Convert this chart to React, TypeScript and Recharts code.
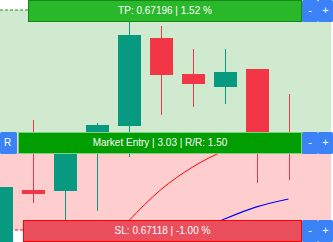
import {
  ComposedChart,
  Bar,
  Line,
  XAxis,
  YAxis,
  ReferenceArea,
  ReferenceLine
} from "recharts";

// candle index, OHLC prices
const IDX = [0, 1, 2, 3, 4, 5, 6, 7, 8, 9];
const OPEN = [0.671074, 0.671322, 0.671318, 0.671496, 0.671549, 0.671861, 0.671733, 0.671687, 0.671751, 0.671513];
const HIGH = [0.671332, 0.67157, 0.671517, 0.671559, 0.671939, 0.671903, 0.671822, 0.671822, 0.671751, 0.671662];
const LOW = [0.671074, 0.671276, 0.671215, 0.671247, 0.671439, 0.671588, 0.671616, 0.671627, 0.671347, 0.671357];
const CLOSE = [0.671332, 0.671308, 0.671499, 0.671552, 0.671871, 0.67173, 0.671698, 0.67174, 0.671499, 0.671464];

// two indicator lines
const MA_RED = [null, null, null, null, 0.671212, 0.671322, 0.671403, 0.67146, 0.671489, 0.671506];
const MA_BLUE = [null, null, null, null, null, null, 0.671169, 0.671219, 0.671262, 0.67129];

// order levels
const TP_PRICE = 0.67196;
const SL_PRICE = 0.67118;
const ENTRY_PRICE = 0.671492;

const TP_TEXT = "TP: 0.67196 | 1.52 %";
const ENTRY_TEXT = "Market Entry | 3.03 | R/R: 1.50";
const SL_TEXT = "SL: 0.67118 | -1.00 %";

const UP = "#089981";
const DOWN = "#F23645";
const BLUE_BTN = "#3B82F6";
const FONT = "'Liberation Sans', Arial, sans-serif";

const data = IDX.map((i) => ({
  i,
  open: OPEN[i],
  high: HIGH[i],
  low: LOW[i],
  close: CLOSE[i],
  maRed: MA_RED[i],
  maBlue: MA_BLUE[i]
}));

const Candle = (props: any) => {
  const { x, y, width, height, payload } = props;
  if (!payload || height == null) return null;
  const { open, close, high, low } = payload;
  const per = height / (high - low);
  const yOf = (v: number) => y + (high - v) * per;
  const cx = x + width / 2;
  const up = close >= open;
  const top = yOf(Math.max(open, close));
  const bot = yOf(Math.min(open, close));
  const color = up ? UP : DOWN;
  return (
    <g shapeRendering="crispEdges">
      <rect x={cx - 0.5} y={y} width={1} height={height} fill={color} />
      <rect x={cx - 11.5} y={top} width={23} height={Math.max(1, bot - top)} fill={color} />
    </g>
  );
};

type TagOpts = { left: number; fill: string; stroke: string; text: string; showR?: boolean };

const makeTag = ({ left, fill, stroke, text, showR }: TagOpts) => (props: any) => {
  const py = Math.round(props.y1);
  const top = py - 10;
  const right = 302;
  return (
    <g>
      <rect
        x={left + 0.5}
        y={top + 0.5}
        width={right - left - 1}
        height={21}
        fill={fill}
        stroke={stroke}
        strokeWidth={1}
        shapeRendering="crispEdges"
      />
      <text
        x={(left + right) / 2}
        y={py + 4}
        textAnchor="middle"
        fill="#fff"
        fontSize={10}
        fontFamily={FONT}
      >
        {text}
      </text>
      <rect x={302} y={top} width={16} height={22} rx={1.5} fill={BLUE_BTN} />
      <rect x={318} y={top} width={15} height={22} rx={1.5} fill={BLUE_BTN} />
      <text x={310} y={py + 4} textAnchor="middle" fill="#fff" fontSize={11} fontFamily={FONT}>
        -
      </text>
      <text x={325.5} y={py + 4} textAnchor="middle" fill="#fff" fontSize={11} fontFamily={FONT}>
        +
      </text>
      {showR && (
        <>
          <rect x={0} y={top} width={17} height={22} rx={1.5} fill={BLUE_BTN} />
          <text x={7.5} y={py + 4} textAnchor="middle" fill="#fff" fontSize={10} fontFamily={FONT}>
            R
          </text>
        </>
      )}
    </g>
  );
};

const TpTag = makeTag({ left: 28, fill: "#29B829", stroke: "#17861A", text: TP_TEXT });
const EntryTag = makeTag({ left: 18, fill: "#009E00", stroke: "#7ED47E", text: ENTRY_TEXT, showR: true });
const SlTag = makeTag({ left: 23, fill: "#EA4F5E", stroke: "#FF0000", text: SL_TEXT });

export default function App() {
  return (
    <div style={{ position: "absolute", left: 0, top: 0 }}>
      <ComposedChart
        width={333}
        height={242}
        data={data}
        margin={{ top: 0, right: 2, bottom: 0, left: 0 }}
      >
        <XAxis
          type="number"
          dataKey="i"
          domain={[-0.015625, 10.328125]}
          allowDataOverflow
          hide
        />
        <YAxis
          type="number"
          domain={[0.6711375, 0.6719955]}
          allowDataOverflow
          hide
          width={0}
        />
        <ReferenceArea y1={ENTRY_PRICE} y2={TP_PRICE} fill="#CFEACF" fillOpacity={1} stroke="none" zIndex={50} />
        <ReferenceArea y1={SL_PRICE} y2={ENTRY_PRICE} fill="#FECDCD" fillOpacity={1} stroke="none" zIndex={50} />
        <ReferenceLine y={TP_PRICE} stroke="#1E8F1E" strokeDasharray="3 2" zIndex={60} />
        <ReferenceLine y={SL_PRICE} stroke="#FF0000" strokeDasharray="3 2" zIndex={60} />
        <Bar
          dataKey={(d: any) => [d.low, d.high]}
          barSize={23}
          shape={Candle}
          isAnimationActive={false}
        />
        <Line
          type="monotone"
          dataKey="maRed"
          stroke="#FF0000"
          strokeWidth={1}
          dot={false}
          activeDot={false}
          isAnimationActive={false}
        />
        <Line
          type="monotone"
          dataKey="maBlue"
          stroke="#0000FF"
          strokeWidth={1.2}
          dot={false}
          activeDot={false}
          isAnimationActive={false}
        />
        <ReferenceLine y={TP_PRICE} shape={TpTag} zIndex={1500} />
        <ReferenceLine y={ENTRY_PRICE} shape={EntryTag} zIndex={1500} />
        <ReferenceLine y={SL_PRICE} shape={SlTag} zIndex={1500} />
      </ComposedChart>
    </div>
  );
}
